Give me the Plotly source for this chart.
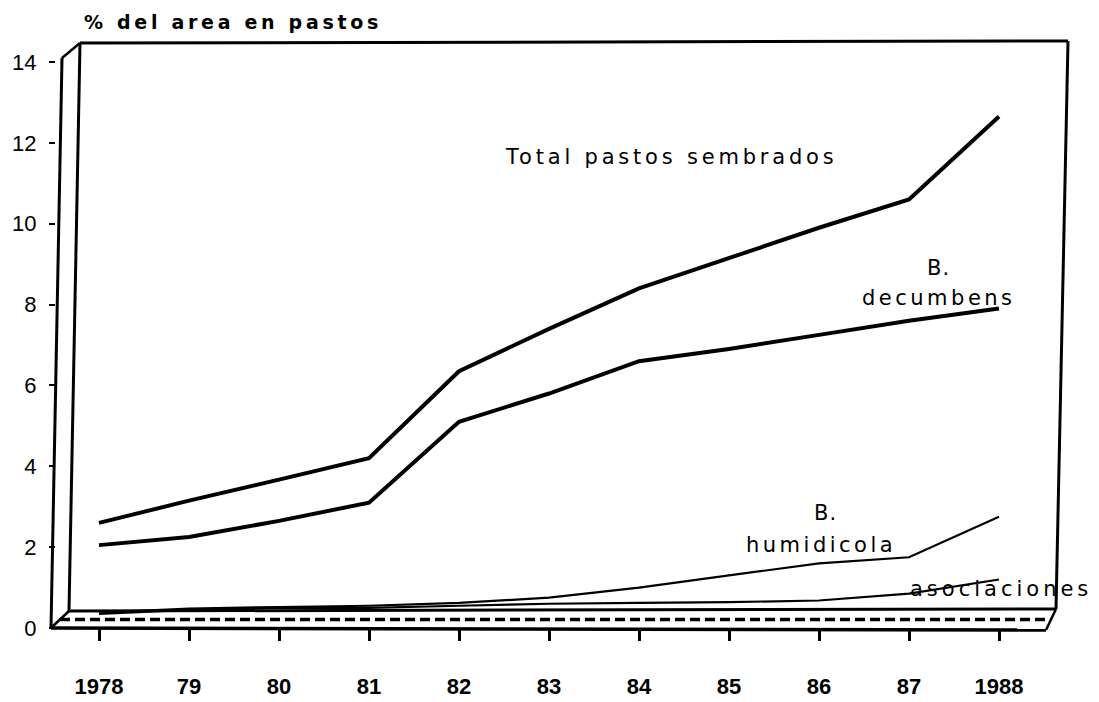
import plotly.graph_objects as go

# ---------------- data ----------------
years = ["1978", "79", "80", "81", "82", "83", "84", "85", "86", "87", "1988"]
total_pastos = [2.6, 3.15, 3.67, 4.2, 6.35, 7.4, 8.4, 9.15, 9.9, 10.6, 12.65]
b_decumbens = [2.05, 2.25, 2.65, 3.1, 5.1, 5.8, 6.6, 6.9, 7.25, 7.6, 7.9]
b_humidicola = [0.38, 0.48, 0.52, 0.55, 0.62, 0.75, 1.0, 1.3, 1.6, 1.75, 2.75]
asociaciones = [0.35, 0.45, 0.5, 0.5, 0.55, 0.6, 0.62, 0.64, 0.68, 0.85, 1.2]
y_ticks = [0, 2, 4, 6, 8, 10, 12, 14]

# ---------------- layout geometry (pixels) ----------------
W, H = 1099, 702
L, R, T, B = 56, 1070, 40, 628          # plot area
PX_PER_Y = 40.43                          # pixels per y unit
X0_PX, X_STEP = 99, 90.0                  # pixel of first category, spacing
y_top = (B - T) / PX_PER_Y
x_lo = (L - X0_PX) / X_STEP
x_hi = (R - X0_PX) / X_STEP

def px(xp, yp):
    """pixel -> paper coords"""
    return (xp - L) / (R - L), (B - yp) / (B - T)

FONT = "Liberation Sans, Arial, Helvetica, sans-serif"
TFONT = "DejaVu Sans, Verdana, sans-serif"
idx = list(range(len(years)))

fig = go.Figure()
series = [
    (total_pastos, 4.0, "Total pastos sembrados"),
    (b_decumbens, 4.0, "B. decumbens"),
    (b_humidicola, 2.2, "B. humidicola"),
    (asociaciones, 2.2, "asociaciones"),
]
for vals, w, name in series:
    fig.add_trace(go.Scatter(x=idx, y=vals, mode="lines", name=name,
                             line=dict(color="black", width=w),
                             hoverinfo="skip", cliponaxis=False))

# ---------------- 3D frame shapes ----------------
def seg(p1, p2, width=3, dash=None):
    x1, y1 = px(*p1)
    x2, y2 = px(*p2)
    d = dict(type="line", xref="paper", yref="paper", x0=x1, y0=y1, x1=x2, y1=y2,
             line=dict(color="black", width=width))
    if dash:
        d["line"]["dash"] = dash
    fig.add_shape(**d)

# front y axis and connection to back plane
seg((62, 58), (51, 628), 3)
seg((62, 58), (80, 43), 2.5)
# back plane
seg((80, 43), (69, 611), 3)
seg((80, 43), (1068, 41), 3)
seg((1068, 41), (1056, 609), 3)
# floor
seg((69, 611), (1056, 609), 3)
seg((51, 628), (1046, 630), 3.5)
seg((69, 611), (52, 627), 2.5)
seg((1056, 609), (1046, 630), 2.5)
seg((60, 619.5), (1051, 619.5), 3.5, dash="10px,5px")

# ---------------- text annotations ----------------
def label(text, xp, yp, anchor="left", size=21, bold=False, spacing=3.8):
    x, y = px(xp, yp)
    t = f'<span style="letter-spacing:{spacing}px">{text}</span>'
    if bold:
        t = "<b>" + t + "</b>"
    fig.add_annotation(x=x, y=y, xref="paper", yref="paper", text=t, showarrow=False,
                       xanchor=anchor, yanchor="middle",
                       font=dict(family=TFONT, size=size, color="black"))

label("% del area en pastos", 82, 22, size=19, bold=True, spacing=3.7)
label("Total pastos sembrados", 503, 157)
label("B.", 938, 268, anchor="center", spacing=1)
label("decumbens", 860, 298, spacing=3.5)
label("B.", 825, 513, anchor="center", spacing=1)
label("humidicola", 744, 545, spacing=3.5)
label("asociaciones", 908, 589, spacing=4.0)

fig.update_layout(
    width=W, height=H,
    margin=dict(l=L, r=W - R, t=T, b=H - B, pad=0, autoexpand=False),
    paper_bgcolor="white", plot_bgcolor="white",
    showlegend=False,
    xaxis=dict(range=[x_lo, x_hi], tickmode="array", tickvals=idx, ticktext=years,
               showgrid=False, zeroline=False, showline=False, automargin=False,
               ticks="outside", ticklen=12, tickwidth=2.5, tickcolor="black",
               ticklabelstandoff=27,
               tickfont=dict(family=FONT, size=22, color="black", weight="bold")),
    yaxis=dict(range=[0, y_top], tickmode="array", tickvals=y_ticks,
               showgrid=False, zeroline=False, showline=False, automargin=False,
               ticks="outside", ticklen=6, tickwidth=2, tickcolor="black",
               ticklabelstandoff=8,
               tickfont=dict(family=FONT, size=22, color="black")),
)

fig.write_html("out.html", config={"displayModeBar": False},
               post_script="document.body.style.margin='0';document.body.style.overflow='hidden';")
